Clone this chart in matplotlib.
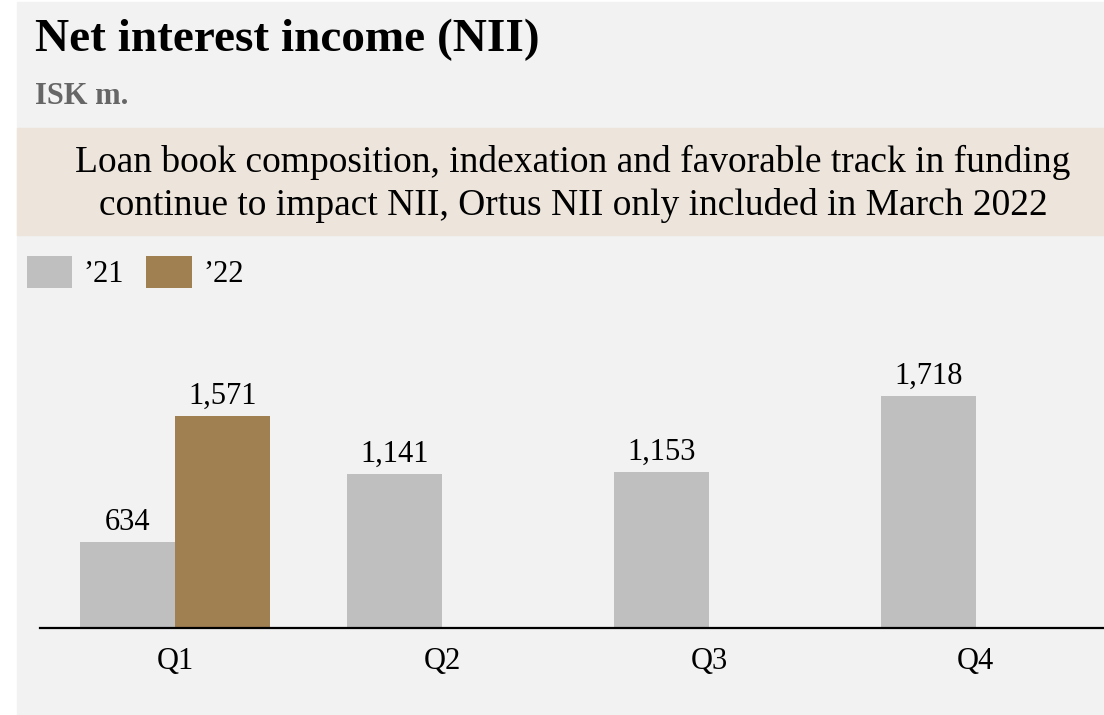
import matplotlib.pyplot as plt
from matplotlib.patches import Rectangle
import numpy as np

quarters = ["Q1", "Q2", "Q3", "Q4"]
nii_2021 = [634, 1141, 1153, 1718]
nii_2022 = [1571]
series_names = ["\u201921", "\u201922"]

grey = "#bfbfbf"
gold = "#a08051"
panel = "#f2f2f2"
banner = "#ede5dc"

plt.rcParams["font.family"] = ["Liberation Serif", "DejaVu Serif"]

W, H = 1104, 715
fig = plt.figure(figsize=(W / 100, H / 100), dpi=100)
fig.patch.set_facecolor("white")

# grey panel and beige banner (behind the axes)
fig.patches.append(Rectangle((17 / W, 0), 1 - 17 / W, (H - 2) / H,
                             transform=fig.transFigure, color=panel, zorder=-2))
fig.patches.append(Rectangle((17 / W, 1 - 235 / H), 1 - 17 / W, 107 / H,
                             transform=fig.transFigure, color=banner, zorder=-1))

fig.text(35 / W, 1 - 40 / H, "Net interest income (NII)", fontsize=34,
         va="center", ha="left", color="black", fontweight="bold")
fig.text(35 / W, 1 - 97 / H, "ISK m.", fontsize=22, fontweight="bold",
         va="center", ha="left", color="#666666")
fig.text(573 / W, 1 - 184 / H,
         "Loan book composition, indexation and favorable track in funding\n"
         "continue to impact NII, Ortus NII only included in March 2022",
         fontsize=27, ha="center", va="center", linespacing=1.28)

# axes placed in pixels
top_px, base_px = 330, 628
ax = fig.add_axes([40 / W, (H - base_px) / H, 1 - 40 / W, (base_px - top_px) / H])
ax.set_facecolor("none")

x = np.arange(len(quarters))
w = 0.356
b1 = ax.bar(x - w / 2, nii_2021, w, color=grey, label=series_names[0])
b2 = ax.bar(x[:len(nii_2022)] + w / 2, nii_2022, w, color=gold, label=series_names[1])

for bars, vals in [(b1, nii_2021), (b2, nii_2022)]:
    for rect, v in zip(bars, vals):
        ax.annotate(f"{v:,}", (rect.get_x() + rect.get_width() / 2, v),
                    xytext=(0, 4), textcoords="offset points",
                    ha="center", va="bottom", fontsize=22)

ax.set_xlim(-0.506, 3.48)
ax.set_ylim(0, (base_px - top_px) * 7.41)
ax.set_xticks(x)
ax.set_xticklabels(quarters, fontsize=22)
ax.tick_params(axis="x", length=0, pad=14)
ax.set_yticks([])
for s in ["top", "right", "left"]:
    ax.spines[s].set_visible(False)
ax.spines["bottom"].set_linewidth(1.6)

leg = fig.legend(handles=[b1, b2], loc="upper left",
                 bbox_to_anchor=(-1 / W, 1 - 228 / H), ncol=2, frameon=False,
                 fontsize=22, handlelength=1.5, handleheight=1.25,
                 handletextpad=0.35, columnspacing=0.75)

fig.savefig("out.png", dpi=100, facecolor=fig.get_facecolor())
